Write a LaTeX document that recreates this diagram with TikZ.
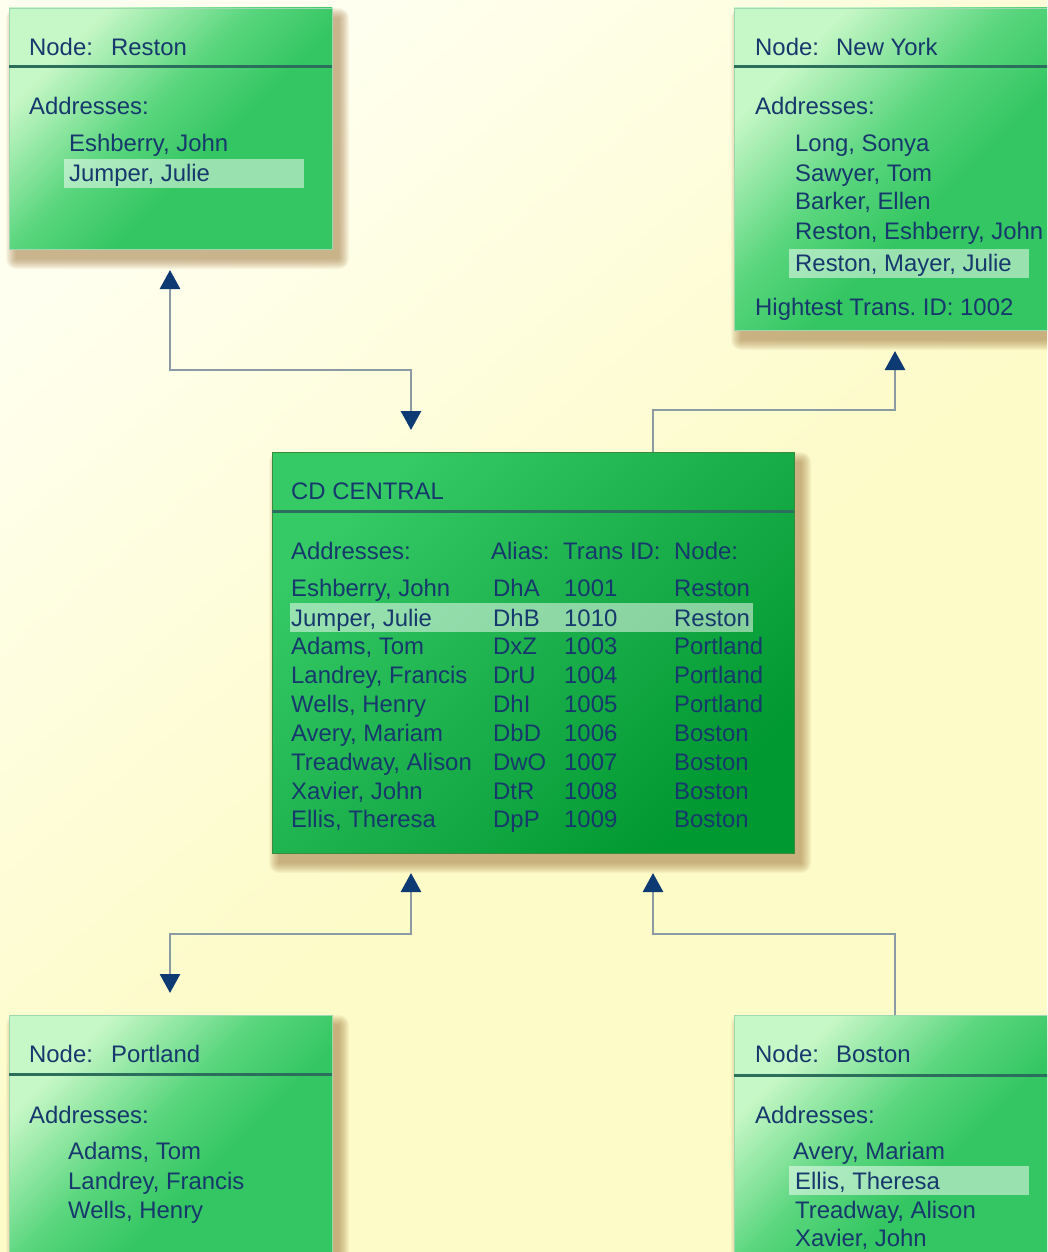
\documentclass[tikz,border=0pt]{standalone}
\usepackage{fontspec}
\setmainfont{Liberation Sans}
\usetikzlibrary{arrows.meta,fit}
\frenchspacing
\definecolor{txt}{HTML}{16386C}
\definecolor{linec}{HTML}{8C9BA3}
\definecolor{tipc}{HTML}{0D3A72}
\definecolor{hdrc}{HTML}{2C6E5C}
\definecolor{shadowc}{HTML}{A07840}
\definecolor{edgec}{HTML}{9FD8B0}
\definecolor{sgA}{HTML}{C6F7C6}
\definecolor{sgB}{HTML}{5AD67E}
\definecolor{sgC}{HTML}{34C662}
\definecolor{cgA}{HTML}{36CA67}
\definecolor{cgB}{HTML}{1CB04C}
\definecolor{cgC}{HTML}{009830}
\definecolor{bgA}{HTML}{FFFFF0}
\definecolor{bgB}{HTML}{FDFBC8}
\pgfdeclarehorizontalshading{smallshade}{100bp}{color(0bp)=(sgA); color(27bp)=(sgA); color(45bp)=(sgB); color(58bp)=(sgC); color(100bp)=(sgC)}
\pgfdeclarehorizontalshading{centralshade}{100bp}{color(0bp)=(cgA); color(25bp)=(cgA); color(50bp)=(cgB); color(75bp)=(cgC); color(100bp)=(cgC)}
\pgfdeclarehorizontalshading{bgshade}{100bp}{color(0bp)=(bgA); color(25bp)=(bgA); color(55bp)=(bgB); color(100bp)=(bgB)}
\tikzset{
  smallbox/.style={shading=smallshade, shading angle=-45, draw=edgec, line width=0.8pt, inner sep=0pt, outer sep=0pt},
  centralbox/.style={shading=centralshade, shading angle=-45, draw=edgec!60!green!60!black, line width=0.8pt, inner sep=0pt, outer sep=0pt},
  hdr/.style={draw=hdrc, line width=3pt},
  hl/.style={fill=white, fill opacity=0.5},
  t/.style={anchor=base west, inner sep=0pt, text=txt, font=\fontsize{23.9}{28}\selectfont},
  conn/.style={draw=linec, line width=2.8pt},
  navytip/.tip={Triangle[width=20pt,length=19pt,color=tipc,fill=tipc]}
}
\begin{document}
\begin{tikzpicture}[x=1pt,y=-1pt]
\clip (0,0) rectangle (1047,1252);
\shade[shading=bgshade, shading angle=-50] (0,0) rectangle (1047,1252);
% box corners
\coordinate (rNW) at (9,8);    \coordinate (rSE) at (332,249);
\coordinate (nNW) at (734,8);  \coordinate (nSE) at (1062,330);
\coordinate (cNW) at (272,452); \coordinate (cSE) at (794,853);
\coordinate (pNW) at (9,1015); \coordinate (pSE) at (332,1275);
\coordinate (bNW) at (734,1015); \coordinate (bSE) at (1062,1275);
% soft shadows
\foreach \a/\b in {rNW/rSE, nNW/nSE, cNW/cSE, pNW/pSE, bNW/bSE}{
  \foreach \i in {0,...,10}{
    \fill[shadowc, opacity=0.065, rounded corners=\i pt]
      ([shift={({(7-\i)*1pt},{(-10+\i)*1pt})}]\a) rectangle ([shift={({(7+\i)*1pt},{(-10-\i)*1pt})}]\b);
  }
}
% boxes
\node[smallbox, fit=(rNW)(rSE)] (reston) {};
\node[smallbox, fit=(nNW)(nSE)] (newyork) {};
\node[centralbox, fit=(cNW)(cSE)] (central) {};
\node[smallbox, fit=(pNW)(pSE)] (portland) {};
\node[smallbox, fit=(bNW)(bSE)] (boston) {};
% header lines
\draw[hdr] ([yshift=-59pt]reston.north west) -- ([yshift=-59pt]reston.north east);
\draw[hdr] ([yshift=-59pt]newyork.north west) -- ([yshift=-59pt]newyork.north east);
\draw[hdr] ([yshift=-59pt]central.north west) -- ([yshift=-59pt]central.north east);
\draw[hdr] ([yshift=-59pt]portland.north west) -- ([yshift=-59pt]portland.north east);
\draw[hdr] ([yshift=-60pt]boston.north west) -- ([yshift=-60pt]boston.north east);
% highlights
\fill[hl] (64,159) rectangle (304,188);
\fill[hl] (789,249) rectangle (1029,278);
\fill[hl] (290,603) rectangle (753,632);
\fill[hl] (789,1166) rectangle (1029,1195);
% Reston texts
\node[t] (r1) at (29,56) {Node:};
\node[t] (r2) at (111,56) {Reston};
\node[t] (r3) at (29,115) {Addresses:};
\node[t] (r4) at (69,152) {Eshberry, John};
\node[t] (r5) at (69,182) {Jumper, Julie};
% New York texts
\node[t] (n1) at (755,56) {Node:};
\node[t] (n2) at (836,56) {New York};
\node[t] (n3) at (755,115) {Addresses:};
\node[t] (n4) at (795,152) {Long, Sonya};
\node[t] (n5) at (795,182) {Sawyer, Tom};
\node[t] (n6) at (795,210) {Barker, Ellen};
\node[t] (n7) at (795,239) {Reston, Eshberry, John};
\node[t] (n8) at (795,271) {Reston, Mayer, Julie};
\node[t] (n9) at (755,315) {Hightest Trans. ID: 1002};
% Central texts
\node[t] (c0) at (291,499) {CD CENTRAL};
\node[t] (ch1) at (291,559) {Addresses:};
\node[t] (ch2) at (491,559) {Alias:};
\node[t] (ch3) at (563,559) {Trans ID:};
\node[t] (ch4) at (674,559) {Node:};
\foreach \y/\nm/\al/\id/\nd [count=\k] in {
  596/{Eshberry, John}/DhA/1001/Reston,
  626/{Jumper, Julie}/DhB/1010/Reston,
  654/{Adams, Tom}/DxZ/1003/Portland,
  683/{Landrey, Francis}/DrU/1004/Portland,
  712/{Wells, Henry}/DhI/1005/Portland,
  741/{Avery, Mariam}/DbD/1006/Boston,
  770/{Treadway, Alison}/DwO/1007/Boston,
  799/{Xavier, John}/DtR/1008/Boston,
  827/{Ellis, Theresa}/DpP/1009/Boston}{
  \node[t] (ca\k) at (291,\y) {\nm};
  \node[t] (cb\k) at (493,\y) {\al};
  \node[t] (cc\k) at (564,\y) {\id};
  \node[t] (cd\k) at (674,\y) {\nd};
}
% Portland texts
\node[t] (p1) at (29,1062) {Node:};
\node[t] (p2) at (111,1062) {Portland};
\node[t] (p3) at (29,1123) {Addresses:};
\node[t] (p4) at (68,1159) {Adams, Tom};
\node[t] (p5) at (68,1189) {Landrey, Francis};
\node[t] (p6) at (68,1218) {Wells, Henry};
% Boston texts
\node[t] (b1) at (755,1062) {Node:};
\node[t] (b2) at (836,1062) {Boston};
\node[t] (b3) at (755,1123) {Addresses:};
\node[t] (b4) at (793,1159) {Avery, Mariam};
\node[t] (b5) at (795,1189) {Ellis, Theresa};
\node[t] (b6) at (795,1218) {Treadway, Alison};
\node[t] (b7) at (795,1246) {Xavier, John};
% connector guides
\coordinate (xa) at (170,0); \coordinate (xb) at (411,0);
\coordinate (xc) at (653,0); \coordinate (xd) at (895,0);
\coordinate (ya) at (0,370); \coordinate (yb) at (0,410); \coordinate (yc) at (0,934);
% connectors
\draw[conn, navytip-navytip, shorten <=21pt, shorten >=22pt] (reston.south -| xa) -- (xa |- ya) -| (central.north -| xb);
\draw[conn, -navytip, shorten >=21pt] (central.north -| xc) -- (xc |- yb) -| (newyork.south -| xd);
\draw[conn, navytip-navytip, shorten <=20pt, shorten >=22pt] (central.south -| xb) -- (xb |- yc) -| (portland.north -| xa);
\draw[conn, -navytip, shorten >=20pt] (boston.north -| xd) -- (xd |- yc) -| (central.south -| xc);
\end{tikzpicture}
\end{document}
